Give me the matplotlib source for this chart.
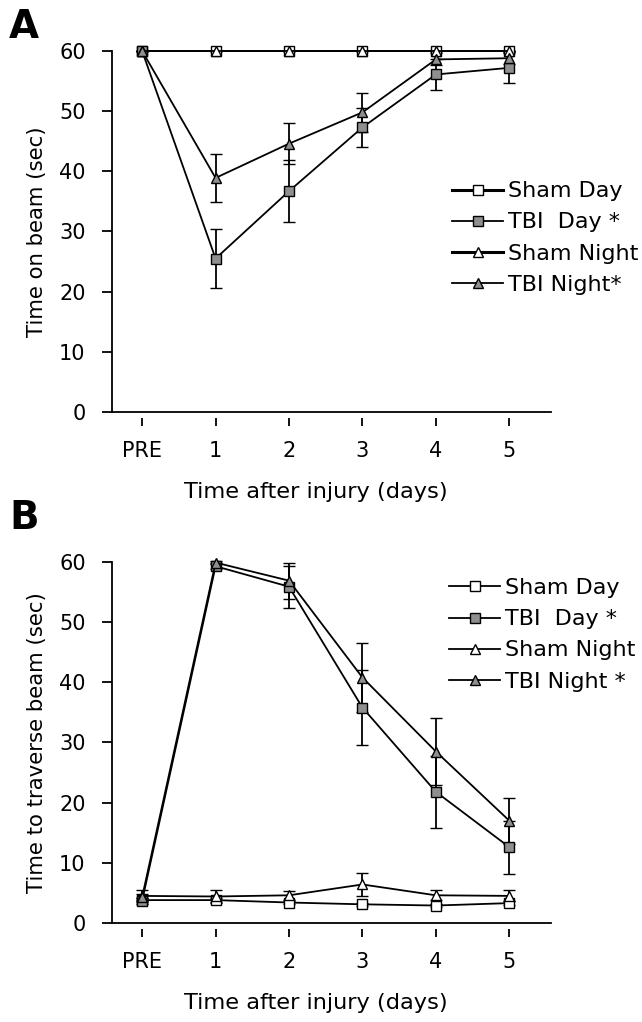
import numpy as np
import matplotlib
matplotlib.use("Agg")
import matplotlib.pyplot as plt
from matplotlib.transforms import offset_copy
from matplotlib.lines import Line2D

plt.rcParams['font.family'] = ['DejaVu Sans']

categories = ["PRE", "1", "2", "3", "4", "5"]
series_names_a = ["Sham Day", "TBI  Day *", "Sham Night", "TBI Night*"]
series_names_b = ["Sham Day", "TBI  Day *", "Sham Night", "TBI Night *"]

# Panel A: Time on beam (sec)
a_sham_day = [60, 60, 60, 60, 60, 60]
a_sham_day_err = [0, 0, 0, 0, 0, 0]
a_tbi_day = [60, 25.5, 36.7, 47.3, 56.1, 57.2]
a_tbi_day_err = [0, 4.9, 5.1, 3.3, 2.6, 2.5]
a_sham_night = [60, 60, 60, 60, 60, 60]
a_sham_night_err = [0, 0, 0, 0, 0, 0]
a_tbi_night = [60, 38.9, 44.6, 49.8, 58.6, 58.8]
a_tbi_night_err = [0, 4.0, 3.4, 3.2, 1.0, 1.0]

# Panel B: Time to traverse beam (sec)
b_sham_day = [3.8, 3.8, 3.4, 3.1, 2.9, 3.3]
b_sham_day_err = [0.3, 0.3, 0.3, 0.3, 0.3, 0.3]
b_tbi_day = [3.7, 59.3, 55.9, 35.8, 21.8, 12.6]
b_tbi_day_err = [0.5, 0.5, 3.5, 6.2, 6.0, 4.4]
b_sham_night = [4.5, 4.4, 4.6, 6.4, 4.6, 4.5]
b_sham_night_err = [0.9, 1.0, 0.7, 1.9, 0.8, 0.9]
b_tbi_night = [4.3, 59.9, 56.9, 40.8, 28.5, 17.0]
b_tbi_night_err = [0.5, 0.3, 3.0, 5.7, 5.5, 3.8]

GRAY = '#8f8f8f'
styles = [
    dict(marker='s', mfc='white'),
    dict(marker='s', mfc=GRAY),
    dict(marker='^', mfc='white'),
    dict(marker='^', mfc=GRAY),
]

fig = plt.figure(figsize=(6.42, 10.22), dpi=100)

def draw_panel(rect, data, names, ylabel, leg_anchor, letter, letter_y, leg_lws):
    ax = fig.add_axes(rect)
    x = np.arange(len(categories))
    for (vals, errs), st in zip(data, styles):
        ax.errorbar(x, vals, yerr=errs, color='black', lw=1.3, elinewidth=1.3,
                    capsize=4.5, capthick=1.3, marker=st['marker'], ms=7,
                    mfc=st['mfc'], mec='black', mew=1.0, clip_on=False)
    ax.set_xlim(-0.41, 5.57)
    ax.set_ylim(0, 60)
    ax.set_yticks(np.arange(0, 61, 10))
    ax.set_xticks(x)
    ax.set_xticklabels(categories)
    for s in ['top', 'right']:
        ax.spines[s].set_visible(False)
    for s in ['left', 'bottom']:
        ax.spines[s].set_linewidth(1.3)
    ax.tick_params(axis='y', direction='out', length=7, width=1.3, labelsize=15, pad=12)
    ax.tick_params(axis='x', length=0, labelsize=15, pad=21)
    # detached tick marks below the axis
    trans = offset_copy(ax.get_xaxis_transform(), fig=fig, y=-10, units='dots')
    ax.plot(x, np.zeros(len(x)), ls='none', marker='|', ms=5.5, mew=1.3,
            color='black', transform=trans, clip_on=False)
    ax.set_xlabel("Time after injury (days)", fontsize=16.2)
    ax.xaxis.set_label_coords(0.465, -0.195)
    ax.set_ylabel(ylabel, fontsize=15.3, labelpad=9)
    handles = [Line2D([], [], color='black', lw=lw, marker=st['marker'], ms=7,
                      mfc=st['mfc'], mec='black', mew=1.0)
               for st, lw in zip(styles, leg_lws)]
    ax.legend(handles, names, loc='center left', bbox_to_anchor=leg_anchor,
              frameon=False, fontsize=16, handlelength=2.3, handletextpad=0.2,
              labelspacing=0.5, borderpad=0, borderaxespad=0)
    fig.text(0.014, letter_y, letter, fontsize=28, fontweight='bold',
             va='center', ha='left')
    return ax

draw_panel([0.1745, 0.5969, 0.684, 0.3532],
           [(a_sham_day, a_sham_day_err), (a_tbi_day, a_tbi_day_err),
            (a_sham_night, a_sham_night_err), (a_tbi_night, a_tbi_night_err)],
           series_names_a, "Time on beam (sec)", (0.775, 0.482), "A", 0.9736,
           [2.2, 1.3, 2.2, 1.3])
draw_panel([0.1745, 0.0969, 0.684, 0.3532],
           [(b_sham_day, b_sham_day_err), (b_tbi_day, b_tbi_day_err),
            (b_sham_night, b_sham_night_err), (b_tbi_night, b_tbi_night_err)],
           series_names_b, "Time to traverse beam (sec)", (0.768, 0.798), "B", 0.493,
           [1.3, 1.3, 1.3, 1.3])

fig.savefig("out.png", dpi=100)
